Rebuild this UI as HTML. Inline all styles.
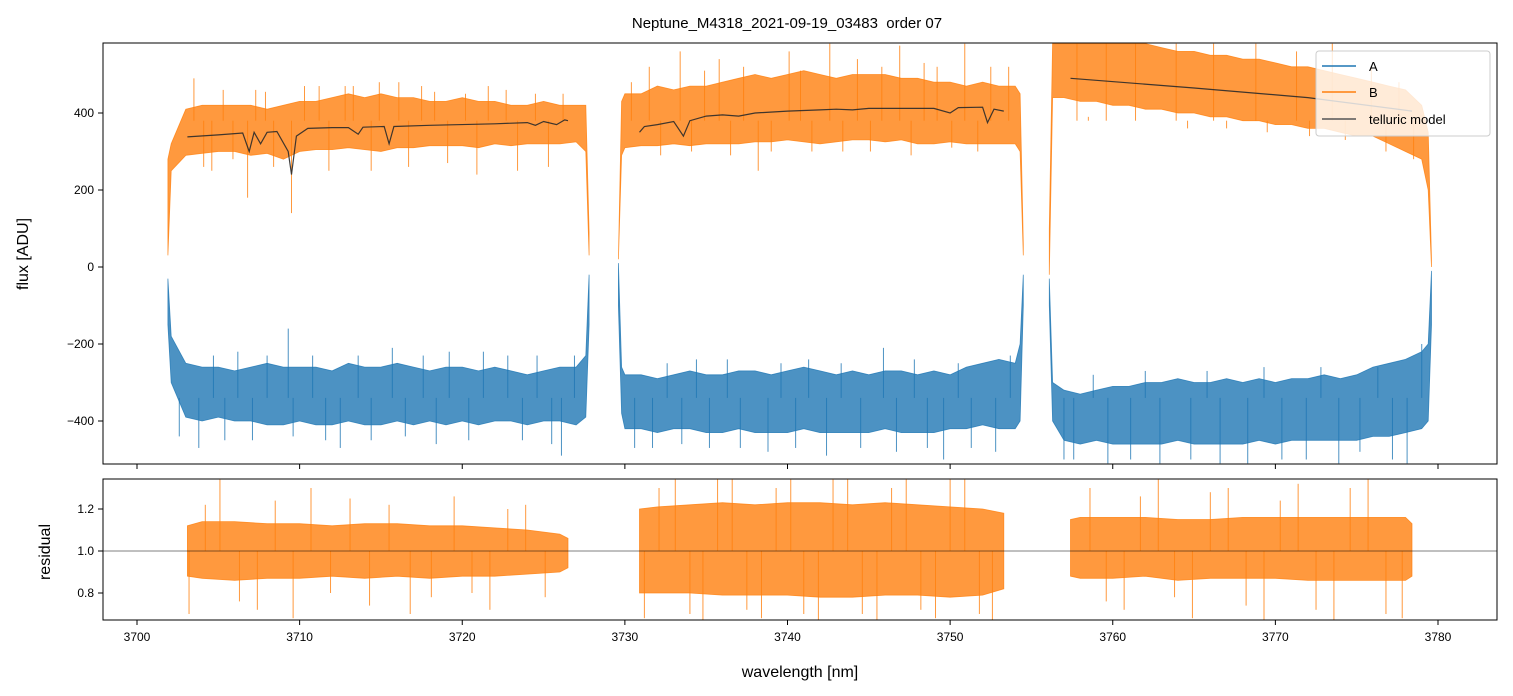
<!DOCTYPE html>
<html><head><meta charset="utf-8">
<style>
body{margin:0;background:#fff;}
svg{display:block;font-family:"Liberation Sans","DejaVu Sans",sans-serif;}
</style></head>
<body>
<svg id="chart" width="1513" height="696" viewBox="0 0 1513 696">
<defs>
<clipPath id="clipTop"><rect x="103" y="43" width="1394" height="421"/></clipPath>
<clipPath id="clipBot"><rect x="103" y="479" width="1394" height="141"/></clipPath>
</defs>
<rect x="0" y="0" width="1513" height="696" fill="#fff"/>
<text x="787" y="28" text-anchor="middle" font-size="15" fill="#000">Neptune_M4318_2021-09-19_03483 &#160;order 07</text>
<g id="topMarks" clip-path="url(#clipTop)"></g>
<g id="botMarks" clip-path="url(#clipBot)"></g>
<g id="axes"></g>
</svg>
<script>
// ---- data ----
const segWl = [
 [3701.9,3702.1,3703,3704,3705,3706,3707,3708,3709,3710,3711,3712,3713,3714,3715,3716,3717,3718,3719,3720,3721,3722,3723,3724,3725,3726,3727,3727.6,3727.8],
 [3729.6,3729.8,3730,3731,3732,3733,3734,3735,3736,3737,3738,3739,3740,3741,3742,3743,3744,3745,3746,3747,3748,3749,3750,3751,3752,3753,3754,3754.3,3754.5],
 [3756.1,3756.3,3757,3758,3759,3760,3761,3762,3763,3764,3765,3766,3767,3768,3769,3770,3771,3772,3773,3774,3775,3776,3777,3778,3779,3779.4,3779.6]
];
const bLo = [
 [30,250,290,295,300,300,290,295,280,300,305,305,310,305,300,310,310,315,315,315,310,320,315,320,320,320,325,300,30],
 [20,290,310,315,315,320,315,320,320,320,325,325,330,325,320,325,330,330,325,330,320,320,325,320,320,320,320,300,30],
 [-20,440,440,430,430,420,420,410,410,400,400,390,390,380,380,370,370,360,360,350,340,340,320,300,280,200,0]
];
const bHi = [
 [280,320,410,420,420,420,420,410,420,430,430,440,450,440,450,440,440,430,430,440,430,430,420,420,430,420,420,420,90],
 [20,430,450,450,470,460,470,470,480,490,500,490,500,510,500,490,500,500,500,490,490,480,480,470,480,470,470,450,60],
 [100,580,580,580,580,580,580,580,570,560,560,550,550,540,540,530,520,520,510,500,490,480,470,460,420,350,20]
];
const aLo = [
 [-150,-300,-390,-400,-390,-400,-400,-410,-410,-400,-410,-410,-400,-410,-410,-400,-410,-400,-410,-400,-410,-400,-400,-410,-400,-400,-410,-390,-150],
 [-100,-380,-420,-420,-430,-420,-420,-430,-430,-420,-430,-430,-430,-420,-430,-430,-430,-430,-420,-430,-430,-430,-420,-420,-410,-420,-420,-400,-100],
 [-100,-400,-450,-460,-450,-460,-460,-460,-460,-450,-460,-460,-460,-460,-450,-460,-450,-450,-450,-450,-450,-440,-440,-430,-420,-400,-150]
];
const aHi = [
 [-30,-180,-250,-260,-260,-270,-260,-250,-260,-260,-260,-270,-250,-260,-260,-250,-260,-270,-260,-260,-270,-260,-270,-280,-270,-260,-260,-230,-20],
 [10,-260,-280,-280,-290,-280,-270,-280,-280,-270,-270,-280,-270,-260,-270,-280,-270,-280,-270,-270,-280,-270,-280,-260,-250,-240,-250,-200,-20],
 [-30,-300,-320,-330,-320,-310,-310,-300,-300,-290,-300,-300,-290,-300,-290,-300,-290,-290,-280,-290,-280,-260,-250,-240,-220,-200,-10]
];
const bSpikeWl = [3703.5,3704.1,3704.6,3705.3,3705.9,3706.8,3707.3,3707.9,3708.4,3709.5,3710.3,3711.2,3711.8,3712.8,3713.3,3714.4,3714.9,3716.1,3716.7,3717.5,3718.3,3719.1,3720.2,3720.9,3721.6,3722.7,3723.4,3724.5,3725.3,3726.2,
 3730.4,3731.5,3732.2,3733.4,3734.1,3734.9,3735.8,3736.5,3737.3,3738.2,3739.0,3740.1,3740.8,3741.5,3742.6,3743.4,3744.3,3745.1,3745.8,3746.9,3747.6,3748.4,3749.2,3750.1,3750.9,3751.7,3752.5,3753.6,
 3757.8,3758.5,3759.6,3760.3,3761.4,3762.2,3763.9,3764.6,3766.2,3767.0,3768.8,3769.5,3771.3,3772.1,3773.5,3774.3,3775.9,3776.8,3777.6,3778.5];
const bSpikeVal = [490,260,250,460,280,180,460,455,260,140,470,470,250,470,470,250,480,480,260,470,455,270,450,240,470,460,250,450,260,450,
 480,520,290,560,300,510,540,290,520,250,300,560,510,300,580,300,540,300,520,575,290,530,520,310,580,300,520,520,
 580,390,580,380,580,380,580,360,580,360,580,350,560,340,580,330,520,300,480,280];
const aSpikeWl = [3702.6,3703.8,3704.7,3705.4,3706.2,3707.1,3708.0,3709.3,3709.6,3710.8,3711.6,3712.5,3713.6,3714.4,3715.7,3716.5,3717.6,3718.4,3719.2,3720.4,3721.3,3722.8,3723.7,3724.6,3725.5,3726.1,3726.9,
 3730.6,3731.7,3732.6,3733.5,3734.4,3735.2,3736.3,3737.1,3738.8,3739.6,3740.5,3741.3,3742.4,3743.3,3744.5,3745.9,3746.7,3747.8,3748.6,3749.6,3750.5,3751.3,3752.8,3753.7,
 3757.0,3757.6,3758.8,3759.7,3761.1,3762.0,3762.9,3764.8,3765.8,3766.6,3768.3,3769.3,3770.4,3771.9,3772.8,3773.9,3775.2,3776.3,3777.2,3778.1,3779.0];
const aSpikeVal = [-440,-470,-230,-450,-220,-450,-230,-160,-440,-230,-450,-470,-230,-450,-210,-440,-230,-460,-220,-450,-220,-230,-450,-230,-460,-490,-230,
 -470,-470,-250,-460,-240,-470,-240,-470,-480,-250,-470,-240,-490,-250,-470,-210,-480,-240,-470,-500,-250,-470,-480,-230,
 -500,-500,-280,-510,-500,-270,-510,-500,-270,-510,-510,-260,-500,-500,-260,-510,-480,-260,-500,-510,-200];
const modelWl = [
 [3703.1,3705,3706.5,3706.9,3707.2,3707.6,3708,3708.6,3709.3,3709.5,3709.8,3710.5,3712,3713,3713.6,3713.9,3715.2,3715.5,3715.8,3718,3722,3724,3724.5,3725,3725.8,3726.3,3726.5],
 [3730.9,3731.2,3732,3733,3733.6,3734,3735,3736,3737,3738,3740,3742,3743,3744,3745,3747,3749,3750,3750.5,3752,3752.3,3752.7,3753.3],
 [3757.4,3765,3772,3778.4]
];
const modelVal = [
 [338,343,348,300,350,320,350,352,300,240,340,360,362,362,345,363,365,320,365,368,372,375,368,378,370,382,380],
 [350,365,370,378,340,380,392,395,392,400,405,408,410,408,412,412,412,400,414,415,375,410,405],
 [490,465,440,405]
];
const resWl = [
 [3703.1,3704,3706,3708,3710,3712,3714,3716,3718,3720,3722,3724,3726,3726.5],
 [3730.9,3732,3734,3736,3738,3740,3742,3744,3746,3748,3750,3752,3753.3],
 [3757.4,3758,3760,3762,3764,3766,3768,3770,3772,3774,3776,3778,3778.4]
];
const resLo = [
 [0.88,0.87,0.86,0.87,0.87,0.88,0.87,0.88,0.87,0.88,0.88,0.89,0.9,0.92],
 [0.8,0.8,0.8,0.79,0.79,0.79,0.78,0.78,0.79,0.79,0.78,0.79,0.82],
 [0.88,0.87,0.87,0.88,0.86,0.87,0.87,0.87,0.86,0.86,0.86,0.86,0.88]
];
const resHi = [
 [1.12,1.14,1.14,1.13,1.13,1.12,1.13,1.13,1.12,1.12,1.11,1.1,1.08,1.06],
 [1.2,1.21,1.22,1.23,1.22,1.23,1.23,1.22,1.23,1.22,1.21,1.2,1.18],
 [1.15,1.16,1.16,1.16,1.15,1.15,1.16,1.16,1.16,1.16,1.16,1.16,1.13]
];
const resSpikeWl = [3703.2,3704.2,3705.1,3706.3,3707.4,3708.5,3709.6,3710.7,3711.9,3713.1,3714.3,3715.5,3716.8,3718.1,3719.5,3720.6,3721.7,3722.8,3723.9,3725.1,
 3731.2,3732.1,3733.1,3734.0,3734.8,3735.7,3736.6,3737.5,3738.4,3739.3,3740.2,3741.0,3741.9,3742.8,3743.7,3744.6,3745.5,3746.4,3747.3,3748.2,3749.1,3750.0,3750.9,3751.8,3752.6,
 3758.6,3759.6,3760.7,3761.7,3762.8,3763.8,3764.9,3766.0,3767.1,3768.2,3769.3,3770.3,3771.4,3772.5,3773.6,3774.6,3775.7,3776.8,3777.8];
const resSpikeVal = [0.7,1.22,1.34,0.76,0.72,1.24,0.68,1.3,0.8,1.25,0.74,1.22,0.7,0.78,1.26,0.8,0.72,1.2,1.22,0.78,
 0.68,1.3,1.34,0.7,0.66,1.34,1.34,0.72,0.68,1.3,1.34,0.7,0.66,1.34,1.34,0.7,0.67,1.3,1.34,0.72,0.68,1.34,1.34,0.7,0.66,
 1.3,0.76,0.72,1.26,1.34,0.78,0.68,1.28,1.3,0.74,0.67,1.24,1.32,0.72,0.66,1.3,1.34,0.7,0.68];
const xTicks = [3700,3710,3720,3730,3740,3750,3760,3770,3780];
const yTopTicks = [-400,-200,0,200,400];
const yBotTicks = [0.8,1.0,1.2];

// ---- scales ----
const X = v => 137 + (v - 3700) * (1438 - 137) / 80;
const Y = v => 267 - v * (267 - 113) / 400;
const YR = v => 551 - (v - 1.0) * 210;
const NS = 'http://www.w3.org/2000/svg';
function mk(tag, attrs, parent){ const e=document.createElementNS(NS,tag); for(const k in attrs) e.setAttribute(k,attrs[k]); parent.appendChild(e); return e; }
const topG = document.getElementById('topMarks');
const botG = document.getElementById('botMarks');
const axesG = document.getElementById('axes');

function band(wl, lo, hi, ys, color, parent, name){
  const pts=[];
  for(let i=0;i<wl.length;i++) pts.push(X(wl[i]).toFixed(1)+','+ys(hi[i]).toFixed(1));
  for(let i=wl.length-1;i>=0;i--) pts.push(X(wl[i]).toFixed(1)+','+ys(lo[i]).toFixed(1));
  const p = mk('polygon',{points:pts.join(' '),fill:color,'fill-opacity':0.8,stroke:color,'stroke-opacity':0.8,'stroke-width':0.8},parent);
  
  
}
function spikes(wl, val, ys, mid, color, parent, name){
  for(let i=0;i<wl.length;i++){
    const l = mk('line',{x1:X(wl[i]),x2:X(wl[i]),y1:ys(mid),y2:ys(val[i]),stroke:color,'stroke-opacity':0.8,'stroke-width':1},parent);
    
    
  }
}
for(let s=0;s<3;s++){
  band(segWl[s], aLo[s], aHi[s], Y, '#1f77b4', topG, 'series-a-segment');
}
spikes(aSpikeWl, aSpikeVal, Y, -340, '#1f77b4', topG, 'series-a-spike');
for(let s=0;s<3;s++){
  band(segWl[s], bLo[s], bHi[s], Y, '#ff7f0e', topG, 'series-b-segment');
}
spikes(bSpikeWl, bSpikeVal, Y, 380, '#ff7f0e', topG, 'series-b-spike');
for(let s=0;s<3;s++){
  const d = modelWl[s].map((w,i)=>(i?'L':'M')+X(w).toFixed(1)+','+Y(modelVal[s][i]).toFixed(1)).join('');
  const p = mk('path',{d:d,fill:'none',stroke:'#2a2a2a','stroke-opacity':0.9,'stroke-width':1.2},topG);
  
  
}
for(let s=0;s<3;s++){
  band(resWl[s], resLo[s], resHi[s], YR, '#ff7f0e', botG, 'residual-segment');
}
spikes(resSpikeWl, resSpikeVal, YR, 1.0, '#ff7f0e', botG, 'residual-spike');
const ref = mk('line',{x1:103,x2:1497,y1:YR(1),y2:YR(1),stroke:'#000','stroke-width':0.5},botG);



// ---- axes frames ----
const f1 = mk('rect',{x:103,y:43,width:1394,height:421,fill:'none',stroke:'#000','stroke-width':1},axesG);


const f2 = mk('rect',{x:103,y:479,width:1394,height:141,fill:'none',stroke:'#000','stroke-width':1},axesG);


xTicks.forEach(t=>{
  const x=X(t);
  const a = mk('line',{x1:x,x2:x,y1:464,y2:469,stroke:'#000'},axesG);
  
  
  const b = mk('line',{x1:x,x2:x,y1:620,y2:625,stroke:'#000'},axesG);
  
  
  const tx = mk('text',{x:x,y:641,'text-anchor':'middle','font-size':12},axesG);
  tx.textContent = t;
  
  
});
yTopTicks.forEach(t=>{
  const y=Y(t);
  const a = mk('line',{x1:98,x2:103,y1:y,y2:y,stroke:'#000'},axesG);
  
  
  const tx = mk('text',{x:94,y:y+4,'text-anchor':'end','font-size':12},axesG);
  tx.textContent = t<0 ? '\u2212'+Math.abs(t) : String(t);
  
  
});
yBotTicks.forEach(t=>{
  const y=YR(t);
  const a = mk('line',{x1:98,x2:103,y1:y,y2:y,stroke:'#000'},axesG);
  
  
  const tx = mk('text',{x:94,y:y+4,'text-anchor':'end','font-size':12},axesG);
  tx.textContent = t.toFixed(1);
  
  
});
const xl = mk('text',{x:800,y:677,'text-anchor':'middle','font-size':16},axesG);
xl.textContent='wavelength [nm]';


const yl = mk('text',{x:0,y:0,'text-anchor':'middle','font-size':16,transform:'translate(28,254) rotate(-90)'},axesG);
yl.textContent='flux [ADU]';


const yl2 = mk('text',{x:0,y:0,'text-anchor':'middle','font-size':16,transform:'translate(50,552) rotate(-90)'},axesG);
yl2.textContent='residual';



// ---- legend ----
const lg = mk('g',{},axesG);


mk('rect',{x:1316,y:51,width:174,height:85,rx:3,fill:'#fff','fill-opacity':0.8,stroke:'#ccc'},lg);
const legItems=[['A','#1f77b4',66],['B','#ff7f0e',92],['telluric model','#555',119]];
legItems.forEach(it=>{
  const g = mk('g',{},lg);
  
  
  mk('line',{x1:1322,x2:1356,y1:it[2],y2:it[2],stroke:it[1],'stroke-width':1.5},g);
  const t = mk('text',{x:1369,y:it[2]+5,'font-size':13},g);
  t.textContent = it[0];
});
</script>
</body></html>
